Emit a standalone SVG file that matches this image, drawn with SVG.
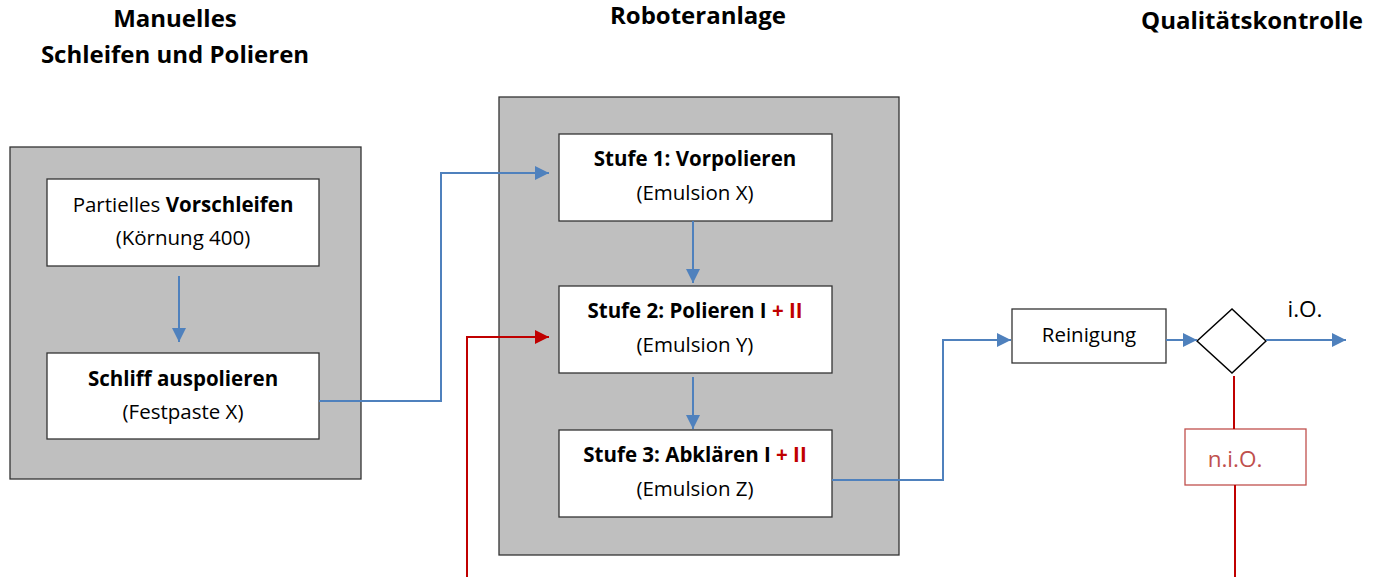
<svg xmlns="http://www.w3.org/2000/svg" width="1378" height="577" viewBox="0 0 1378 577">
<defs>
<style>
text{font-family:"Open Sans","Liberation Sans",sans-serif;fill:#000;text-anchor:middle}
.h{font-size:24px;font-weight:bold}
.t{font-size:20.5px}
.b{font-weight:bold}
.r{fill:#c00000}
.grp{fill:#bfbfbf;stroke:#333;stroke-width:1.3}
.box{fill:#fff;stroke:#333;stroke-width:1.3}
.bl{fill:none;stroke:#4f81bd;stroke-width:2}
.rd{fill:none;stroke:#c00000;stroke-width:2}
</style>
<marker id="ab" viewBox="0 0 10 10" refX="10" refY="5" markerWidth="7" markerHeight="7" markerUnits="strokeWidth" orient="auto"><path d="M0,0 L10,5 L0,10 z" fill="#4f81bd"/></marker>
<marker id="ar" viewBox="0 0 10 10" refX="10" refY="5" markerWidth="7" markerHeight="7" markerUnits="strokeWidth" orient="auto"><path d="M0,0 L10,5 L0,10 z" fill="#c00000"/></marker>
</defs>
<g id="headers">
<text class="h" x="175" y="27">Manuelles</text>
<text class="h" x="175" y="63">Schleifen und Polieren</text>
<text class="h" x="698" y="24">Roboteranlage</text>
<text class="h" x="1252" y="29">Qualitätskontrolle</text>
</g>
<g id="group-manual"><rect class="grp" x="10" y="147" width="351" height="332"/></g>
<g id="group-robot"><rect class="grp" x="499" y="97" width="400" height="458"/></g>
<g id="node-vorschleifen"><rect class="box" x="47" y="179" width="272" height="87"/>
<text class="t" x="183" y="212">Partielles <tspan class="b">Vorschleifen</tspan></text>
<text class="t" x="183" y="245">(Körnung 400)</text></g>
<g id="node-auspolieren"><rect class="box" x="47" y="353" width="272" height="86"/>
<text class="t b" x="183" y="386">Schliff auspolieren</text>
<text class="t" x="183" y="419">(Festpaste X)</text></g>
<g id="node-stufe1"><rect class="box" x="559" y="134" width="273" height="87"/>
<text class="t b" x="695" y="166">Stufe 1: Vorpolieren</text>
<text class="t" x="695" y="200">(Emulsion X)</text></g>
<g id="node-stufe2"><rect class="box" x="559" y="286" width="273" height="87"/>
<text class="t b" x="695" y="318">Stufe 2: Polieren I <tspan class="r">+ II</tspan></text>
<text class="t" x="695" y="352">(Emulsion Y)</text></g>
<g id="node-stufe3"><rect class="box" x="559" y="430" width="273" height="87"/>
<text class="t b" x="695" y="462">Stufe 3: Abklären I <tspan class="r">+ II</tspan></text>
<text class="t" x="695" y="496">(Emulsion Z)</text></g>
<g id="node-reinigung"><rect class="box" x="1012" y="309" width="154" height="54"/>
<text class="t" x="1089" y="342">Reinigung</text></g>
<g id="node-decision"><path d="M1197,341 L1232,309 L1266,341 L1232,373 Z" fill="#fff" stroke="#000" stroke-width="1.5"/></g>
<g id="node-nio"><rect x="1185" y="429" width="121" height="56" fill="#fff" stroke="#c0504d" stroke-width="1.3"/>
<text x="1235" y="467" style="fill:#c0504d;font-size:22.5px">n.i.O.</text></g>
<g id="label-io"><text x="1305" y="317" style="font-size:22.5px">i.O.</text></g>
<g id="connectors">
<path class="bl" d="M179,276 V342" marker-end="url(#ab)"/>
<path class="bl" d="M319,401 H441 V173 H549" marker-end="url(#ab)"/>
<path class="bl" d="M693,221 V283" marker-end="url(#ab)"/>
<path class="bl" d="M693,377 V429" marker-end="url(#ab)"/>
<path class="bl" d="M832,480 H943 V340 H1011" marker-end="url(#ab)"/>
<path class="bl" d="M1166,340 H1197" marker-end="url(#ab)"/>
<path class="bl" d="M1266,340 H1346" marker-end="url(#ab)"/>
<path class="rd" d="M467,577 V337 H549" marker-end="url(#ar)"/>
<path class="rd" d="M1234,376 V429"/>
<path class="rd" d="M1235,485 V577"/>
</g>
</svg>
